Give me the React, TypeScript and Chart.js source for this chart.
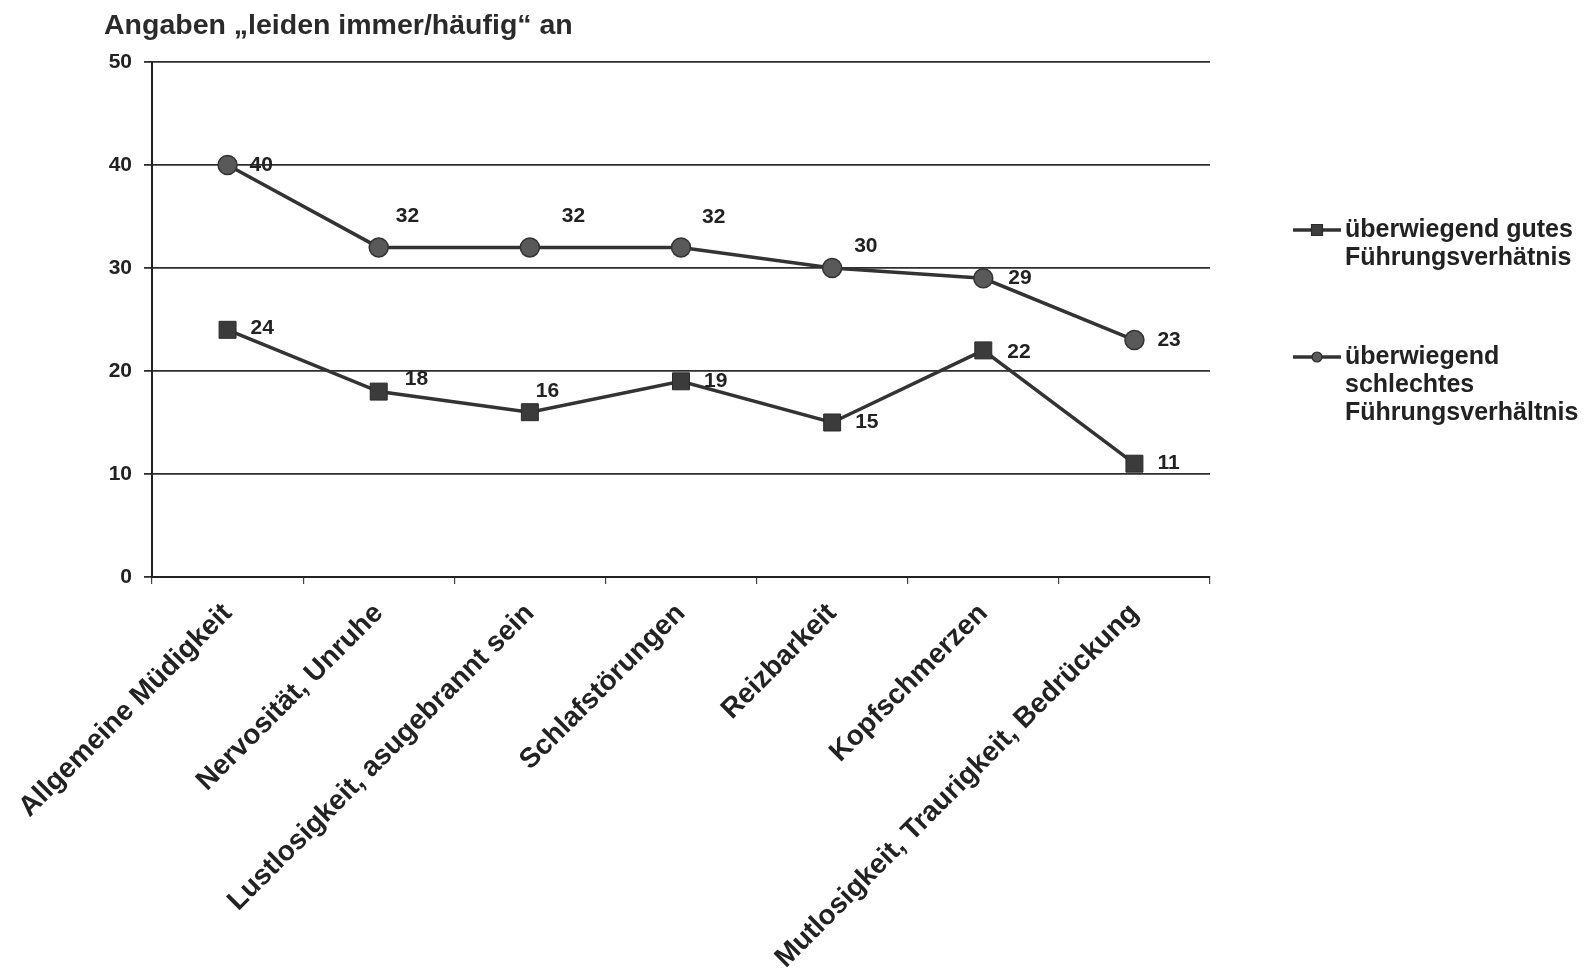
import React, { useEffect, useRef } from "react";
import { Chart, registerables } from "chart.js";

Chart.register(...registerables);

const CATEGORIES = [
  "Allgemeine Müdigkeit",
  "Nervosität, Unruhe",
  "Lustlosigkeit, asugebrannt sein",
  "Schlafstörungen",
  "Reizbarkeit",
  "Kopfschmerzen",
  "Mutlosigkeit, Traurigkeit, Bedrückung",
];

const SERIES_GOOD_LABEL = ["überwiegend gutes", "Führungsverhätnis"];
const SERIES_GOOD = [24, 18, 16, 19, 15, 22, 11];

const SERIES_BAD_LABEL = ["überwiegend", "schlechtes", "Führungsverhältnis"];
const SERIES_BAD = [40, 32, 32, 32, 30, 29, 23];

const Y_MIN = 0;
const Y_MAX = 50;
const Y_STEP = 10;

const TITLE = "Angaben „leiden immer/häufig“ an";

// label offsets relative to each point (pixels), per dataset
const LABEL_OFFSETS_GOOD: [number, number][] = [
  [23, -2], [26, -12], [6, -21], [23, 0], [23, 0], [24, 2], [23, 0],
];
const LABEL_OFFSETS_BAD: [number, number][] = [
  [22, 0], [17, -31], [32, -31], [21, -30], [22, -22], [25, 0], [23, 0],
];

const FONT = "'Liberation Sans', Arial, sans-serif";
const INK = "#222";

const titlePlugin = {
  id: "customTitle",
  afterDraw(chart: any) {
    const ctx = chart.ctx;
    ctx.save();
    ctx.font = `bold 28.5px ${FONT}`;
    ctx.fillStyle = "#2a2a2a";
    ctx.textAlign = "left";
    ctx.textBaseline = "alphabetic";
    ctx.fillText(TITLE, 104, 34);
    ctx.restore();
  },
};

const valueLabelPlugin = {
  id: "valueLabels",
  afterDatasetsDraw(chart: any) {
    const ctx = chart.ctx;
    const offsets = [LABEL_OFFSETS_GOOD, LABEL_OFFSETS_BAD];
    ctx.save();
    ctx.font = `bold 21px ${FONT}`;
    ctx.fillStyle = INK;
    ctx.textAlign = "left";
    ctx.textBaseline = "middle";
    chart.data.datasets.forEach((ds: any, di: number) => {
      const meta = chart.getDatasetMeta(di);
      meta.data.forEach((pt: any, i: number) => {
        const [dx, dy] = offsets[di][i] || [22, 0];
        ctx.fillText(String(ds.data[i]), pt.x + dx, pt.y + dy);
      });
    });
    ctx.restore();
  },
};

const legendPlugin = {
  id: "customLegend",
  afterDraw(chart: any) {
    const ctx = chart.ctx;
    const entries = [
      { lines: SERIES_GOOD_LABEL, y: 230, style: "rect" },
      { lines: SERIES_BAD_LABEL, y: 357, style: "circle" },
    ];
    ctx.save();
    entries.forEach((e) => {
      const x0 = 1293;
      const x1 = 1341;
      const cx = (x0 + x1) / 2;
      ctx.strokeStyle = "#333";
      ctx.lineWidth = 3.5;
      ctx.beginPath();
      ctx.moveTo(x0, e.y);
      ctx.lineTo(x1, e.y);
      ctx.stroke();
      ctx.fillStyle = e.style === "rect" ? "#3d3d3d" : "#5a5a5a";
      ctx.strokeStyle = "#2a2a2a";
      ctx.lineWidth = 1.2;
      ctx.beginPath();
      if (e.style === "rect") {
        ctx.rect(cx - 5.5, e.y - 5.5, 11, 11);
      } else {
        ctx.arc(cx, e.y, 5, 0, Math.PI * 2);
      }
      ctx.fill();
      ctx.stroke();
      ctx.font = `bold 25px ${FONT}`;
      ctx.fillStyle = INK;
      ctx.textAlign = "left";
      ctx.textBaseline = "middle";
      e.lines.forEach((t, li) => {
        ctx.fillText(t, 1345, e.y + li * 28);
      });
    });
    ctx.restore();
  },
};

export default function App() {
  const ref = useRef<HTMLCanvasElement | null>(null);

  useEffect(() => {
    if (!ref.current) return;
    Chart.defaults.font.family = FONT;
    const chart = new Chart(ref.current, {
      type: "line",
      data: {
        labels: CATEGORIES,
        datasets: [
          {
            label: SERIES_GOOD_LABEL.join(" "),
            data: SERIES_GOOD,
            borderColor: "#333",
            borderWidth: 3.5,
            pointStyle: "rect",
            pointRadius: 12,
            pointHoverRadius: 12,
            pointBackgroundColor: "#3b3b3b",
            pointBorderColor: "#2a2a2a",
            pointBorderWidth: 1,
            tension: 0,
            fill: false,
          },
          {
            label: SERIES_BAD_LABEL.join(" "),
            data: SERIES_BAD,
            borderColor: "#333",
            borderWidth: 3.5,
            pointStyle: "circle",
            pointRadius: 9.5,
            pointHoverRadius: 9.5,
            pointBackgroundColor: "#595959",
            pointBorderColor: "#333",
            pointBorderWidth: 1.5,
            tension: 0,
            fill: false,
          },
        ],
      },
      options: {
        animation: false,
        responsive: false,
        devicePixelRatio: 1,
        layout: { padding: { top: 62, right: 375, bottom: 0, left: 0 } },
        plugins: {
          legend: { display: false },
          title: { display: false },
          tooltip: { enabled: false },
        },
        scales: {
          x: {
            type: "category",
            offset: true,
            afterFit: (scale: any) => {
              scale.height = 971 - 577;
            },
            grid: {
              display: true,
              drawOnChartArea: false,
              drawTicks: true,
              tickLength: 7,
              offset: true,
              color: "#444",
              lineWidth: 1.2,
            },
            border: { display: true, color: "#222", width: 2 },
            ticks: {
              autoSkip: false,
              maxRotation: 45,
              minRotation: 45,
              padding: 13,
              color: INK,
              font: { family: FONT, size: 28, weight: "bold" },
            },
          },
          y: {
            min: Y_MIN,
            max: Y_MAX,
            afterFit: (scale: any) => {
              scale.width = 152;
            },
            grid: {
              color: "#2e2e2e",
              lineWidth: 1.8,
              drawTicks: true,
              tickLength: 8,
            },
            border: { display: true, color: "#222", width: 2 },
            ticks: {
              stepSize: Y_STEP,
              padding: 12,
              color: INK,
              font: { family: FONT, size: 21, weight: "bold" },
            },
          },
        },
      },
      plugins: [titlePlugin, valueLabelPlugin, legendPlugin],
    });
    return () => chart.destroy();
  }, []);

  return (
    <div style={{ position: "absolute", left: 0, top: 0, width: 1585, height: 971, background: "#fff" }}>
      <canvas ref={ref} width={1585} height={971} style={{ display: "block" }} />
    </div>
  );
}
